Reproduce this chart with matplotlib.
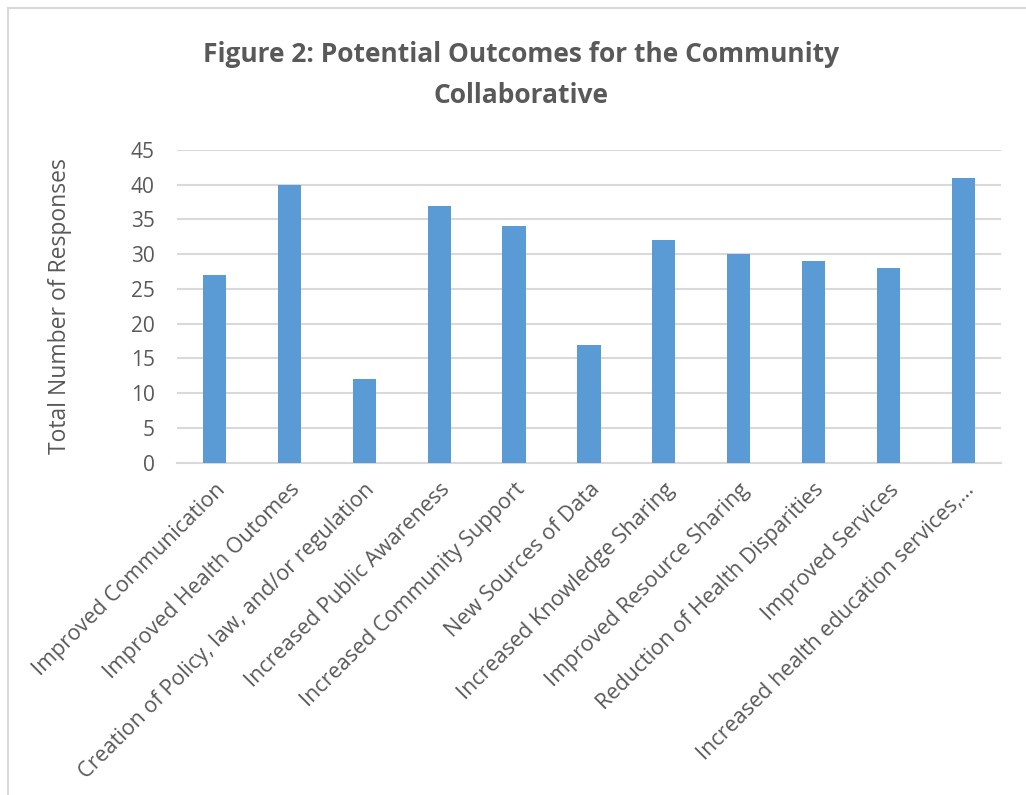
import matplotlib.pyplot as plt
import numpy as np
from matplotlib.lines import Line2D

plt.rcParams['font.family'] = ['Open Sans', 'DejaVu Sans']

# Survey data
categories = [
    'Improved Communication',
    'Improved Health Outomes',
    'Creation of Policy, law, and/or regulation',
    'Increased Public Awareness',
    'Increased Community Support',
    'New Sources of Data',
    'Increased Knowledge Sharing',
    'Improved Resource Sharing',
    'Reduction of Health Disparities',
    'Improved Services',
    'Increased health education services,\u2026',
]
responses = [27, 40, 12, 37, 34, 17, 32, 30, 29, 28, 41]
y_ticks = [0, 5, 10, 15, 20, 25, 30, 35, 40, 45]

TEXT = '#595959'
GRID = '#D9D9D9'
BAR = '#5B9BD5'

fig = plt.figure(figsize=(10.26, 7.95), dpi=100)
ax = fig.add_axes([0.1725, 0.418, 0.8031, 0.3933])

x = np.arange(len(categories))
ax.bar(x, responses, width=0.31, color=BAR, zorder=3)

ax.set_xlim(-0.5, len(categories) - 0.5)
ax.set_ylim(0, 45)
ax.set_yticks(y_ticks)
ax.yaxis.grid(True, color=GRID, linewidth=1.5, zorder=0)
ax.set_axisbelow(True)

for s in ['top', 'right', 'left']:
    ax.spines[s].set_visible(False)
ax.spines['bottom'].set_color(GRID)
ax.spines['bottom'].set_linewidth(1.5)

ax.set_xticks(x)
ax.set_xticklabels(categories, rotation=45, ha='right', va='top',
                   rotation_mode='anchor', fontsize=15.5, color=TEXT)
ax.tick_params(axis='x', length=0, pad=12)
ax.tick_params(axis='y', length=0, pad=16, labelsize=15, labelcolor=TEXT)

ax.set_ylabel('Total Number of Responses', fontsize=16.5, color=TEXT)
ax.yaxis.set_label_coords(-0.127, 0.5)

fig.text(0.508, 0.9057, 'Figure 2: Potential Outcomes for the Community\nCollaborative',
         ha='center', va='center', fontsize=19, fontweight='bold', color=TEXT,
         linespacing=1.7)

# chart frame (left and top edges visible)
fig.add_artist(Line2D([8 / 1026, 8 / 1026], [0, 1 - 8 / 795], color=GRID,
                      linewidth=1.5, transform=fig.transFigure))
fig.add_artist(Line2D([8 / 1026, 1], [1 - 8 / 795, 1 - 8 / 795], color=GRID,
                      linewidth=1.5, transform=fig.transFigure))

fig.savefig('out.png', dpi=100, facecolor='white')
